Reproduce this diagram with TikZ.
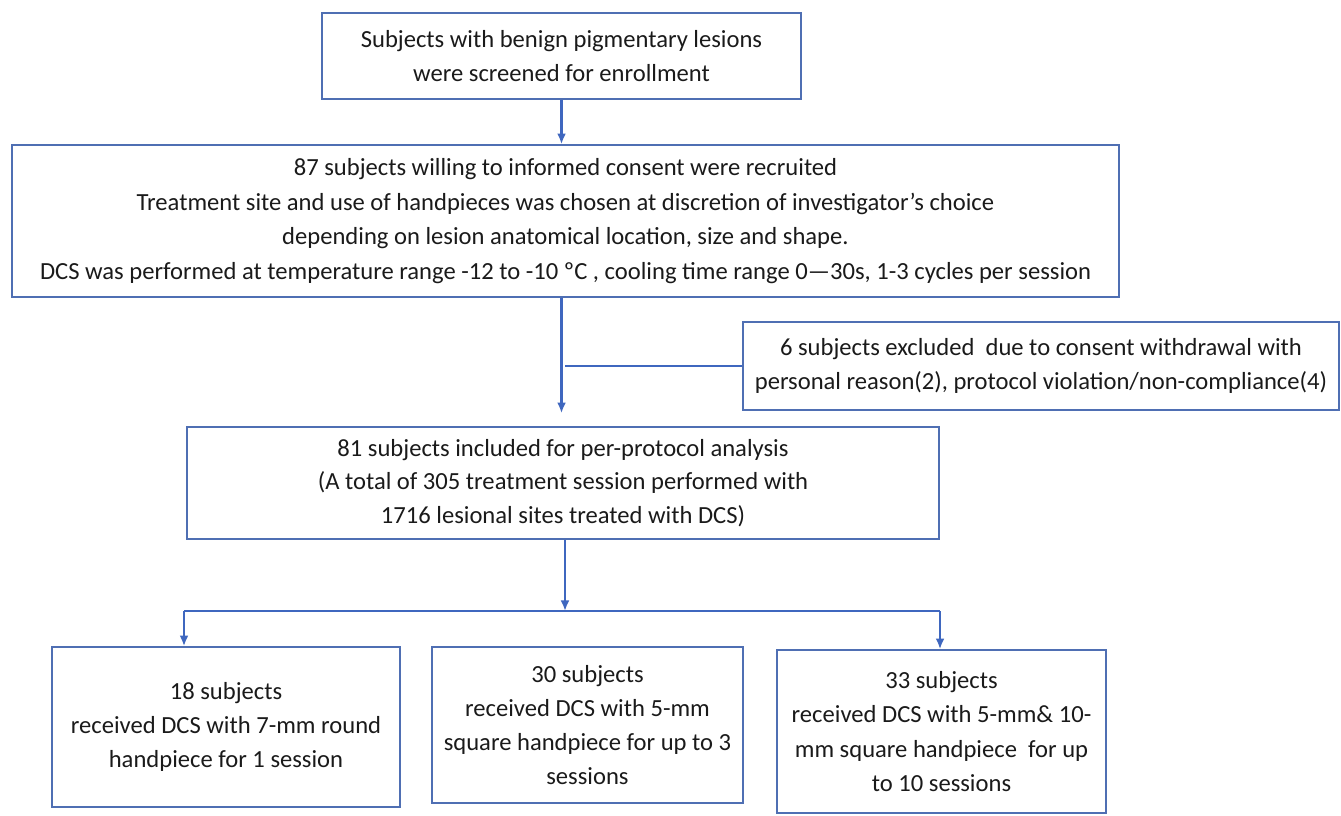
\documentclass[tikz,border=0pt]{standalone}
\usepackage{fontspec}
\setmainfont{Carlito}
\usepackage{tikz}
\usetikzlibrary{calc,arrows.meta,positioning}
\definecolor{boxblue}{HTML}{4F6FB3}
\definecolor{lineblue}{HTML}{3F67BF}
\definecolor{inkgray}{HTML}{1A1A1A}
\tikzset{
    block/.style = {draw=boxblue, rectangle, line width=0.9pt,
        text=inkgray, align=center, inner sep=0pt,
        font=\fontsize{14}{19.2}\selectfont},
    tap/.style = {coordinate},
    arrow/.style = {draw=lineblue, line width=1.4pt, -{Latex[length=6pt,width=5pt]}},
    branch/.style = {draw=lineblue, line width=1pt}
}
\begin{document}
\begin{tikzpicture}[auto]
    \useasboundingbox (0,0) rectangle (26.82,-16.30);
    \node [block, minimum width=9.58cm, minimum height=1.72cm, font=\fontsize{14}{19.8}\selectfont] (screen) at (11.23,-1.12)
        {Subjects with benign pigmentary lesions\\were screened for enrollment};
    \node [block, minimum width=22.14cm, minimum height=3.04cm, font=\fontsize{14}{19.6}\selectfont] (recruit) at (11.31,-4.42)
        {87 subjects willing to informed consent were recruited\\
         Treatment site and use of handpieces was chosen at discretion of investigator’s choice\\
         depending on lesion anatomical location, size and shape.\\
         DCS was performed at temperature range -12 to -10 ºC , cooling time range 0—30s, 1-3 cycles per session};
    \node [block, minimum width=11.92cm, minimum height=1.76cm] (excl) at (20.82,-7.32)
        {6 subjects excluded\ \ due to consent withdrawal with\\
         personal reason(2), protocol violation/non-compliance(4)};
    \node [block, minimum width=15.04cm, minimum height=2.24cm] (incl) at (11.26,-9.66)
        {81 subjects included for per-protocol analysis\\
         (A total of 305 treatment session performed with\\
         1716 lesional sites treated with DCS)};
    \node [block, minimum width=6.96cm, minimum height=3.2cm] (grpA) at (4.52,-14.54)
        {18 subjects\\received DCS with 7-mm round\\handpiece for 1 session};
    \node [block, minimum width=6.22cm, minimum height=3.12cm] (grpB) at (11.75,-14.50)
        {30 subjects\\received DCS with 5-mm\\square handpiece for up to 3\\sessions};
    \node [block, minimum width=6.58cm, minimum height=3.26cm, font=\fontsize{14}{19.6}\selectfont] (grpC) at (18.83,-14.63)
        {33 subjects\\received DCS with 5-mm\& 10-\\mm square handpiece\ \ for up\\to 10 sessions};
    % split points of the bottom branch
    \node [tap] (split) at (11.30,-12.22) {};
    \node [tap] (tapA) at (3.68,-12.22) {};
    \node [tap] (tapC) at (18.80,-12.22) {};
    \draw [arrow] (screen.south) -- (screen.south |- recruit.north);
    \draw [arrow, shorten >=0.26cm] (recruit.south -| screen.south) -- (screen.south |- incl.north);
    \draw [branch] (excl.west) -- ($(excl.west -| screen.south)+(0.06,0)$);
    \draw [arrow] (incl.south -| split) -- (split);
    \draw [branch] (tapA) -- (tapC);
    \draw [arrow] (tapA) -- (tapA |- grpA.north);
    \draw [arrow] (tapC) -- (tapC |- grpC.north);
\end{tikzpicture}
\end{document}
